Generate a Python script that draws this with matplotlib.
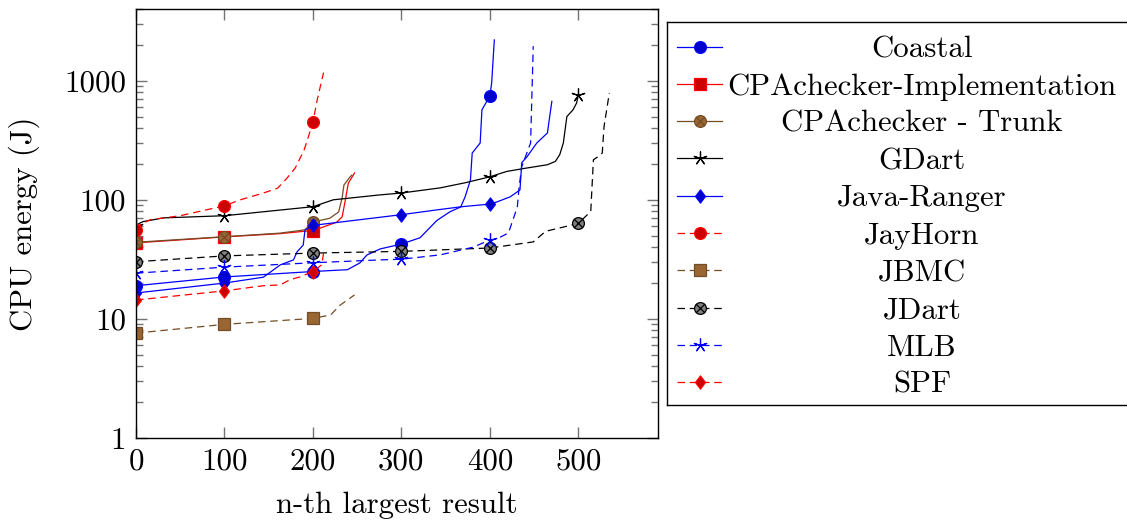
import numpy as np
import matplotlib
matplotlib.use("Agg")
import matplotlib.pyplot as plt
from matplotlib.path import Path
from matplotlib.ticker import LogLocator, NullFormatter

plt.rcParams['font.family'] = 'cmr10'
plt.rcParams['font.size'] = 22.2
plt.rcParams['axes.unicode_minus'] = False

# quantile curves (n-th result, CPU energy in J)
names = ["Coastal", "CPAchecker-Implementation", "CPAchecker - Trunk", "GDart",
         "Java-Ranger", "JayHorn", "JBMC", "JDart", "MLB", "SPF"]

coastal_x = [0, 100, 200, 239, 253, 261, 276, 300, 321, 340, 355, 367, 372, 378, 380, 389, 391, 400, 402, 405]
coastal_y = [19, 22.5, 25, 25.9, 29.5, 34.4, 38.7, 42.5, 48, 67, 79.5, 87, 106, 147, 247, 300, 570, 745, 960, 2200]

cpaimpl_x = [0, 100, 163, 191, 200, 227, 233, 236, 240, 247]
cpaimpl_y = [43.5, 48.8, 52, 54.5, 55, 65, 72, 94, 138, 168]

cpatrunk_x = [0, 100, 163, 191, 200, 219, 229, 233, 235, 242, 244]
cpatrunk_y = [44, 49, 52.5, 56, 65, 70, 79, 104, 133, 156, 161]

gdart_x = [0, 3, 8, 31, 100, 200, 223, 276, 300, 344, 372, 400, 419, 438, 465, 474, 479, 483, 487, 494, 498, 500]
gdart_y = [60, 63, 65.6, 70.5, 73.5, 87.5, 100, 110, 114, 126, 139, 156, 173, 183, 197, 210, 240, 300, 500, 570, 650, 760]

ranger_x = [0, 100, 144, 163, 178, 182, 189, 191, 200, 300, 344, 368, 400, 408, 423, 434, 436, 442, 453, 465, 470]
ranger_y = [16.5, 20, 22.4, 28.4, 31.3, 36.5, 41.7, 55.8, 61, 75, 83, 87.5, 92, 96, 106, 121, 205, 230, 300, 364, 670]

jayhorn_x = [0, 5, 16, 50, 80, 100, 118, 144, 160, 170, 180, 190, 197, 200, 205, 212]
jayhorn_y = [56, 62, 68, 73.5, 82.5, 89, 100, 114, 125, 150, 185, 262, 380, 450, 700, 1170]

jbmc_x = [0, 100, 200, 220, 231, 247]
jbmc_y = [7.6, 9.0, 10.1, 10.8, 13.1, 15.9]

jdart_x = [0, 100, 200, 300, 400, 449, 463, 489, 500, 506, 514, 517, 523, 527, 529, 535]
jdart_y = [30.2, 33.8, 35.7, 36.9, 39.4, 44.3, 54.4, 60.5, 63.5, 70, 80, 217, 232, 247, 412, 790]

mlb_x = [0, 100, 200, 276, 300, 344, 381, 400, 408, 421, 431, 433, 436, 446, 449]
mlb_y = [24.2, 27.2, 29.6, 31.3, 31.7, 34.5, 40, 46, 47, 52.7, 87, 128, 190, 300, 1950]

spf_x = [0, 100, 144, 163, 174, 186, 200, 210, 212]
spf_y = [14.4, 17.2, 19, 19.3, 21.3, 22.6, 25, 28.5, 35.8]

series_x = [coastal_x, cpaimpl_x, cpatrunk_x, gdart_x, ranger_x, jayhorn_x, jbmc_x, jdart_x, mlb_x, spf_x]
series_y = [coastal_y, cpaimpl_y, cpatrunk_y, gdart_y, ranger_y, jayhorn_y, jbmc_y, jdart_y, mlb_y, spf_y]

# pgfplots default cycle list
BLUE, RED, BLACK = (0, 0, 1), (1, 0, 0), (0, 0, 0)
BROWN_LINE = (0.45, 0.3, 0.15)
BLUE_FILL, RED_FILL, BROWN_FILL = (0, 0, 0.8), (0.8, 0, 0), (0.6, 0.4, 0.2)

c = 0.7071
otimes = Path.make_compound_path(
    Path.unit_circle(),
    Path([[-c, -c], [c, c]], [Path.MOVETO, Path.LINETO]),
    Path([[-c, c], [c, -c]], [Path.MOVETO, Path.LINETO]))
diamond = Path([[0, 1], [0.75, 0], [0, -1], [-0.75, 0], [0, 1]],
               [Path.MOVETO, Path.LINETO, Path.LINETO, Path.LINETO, Path.CLOSEPOLY])
star = (5, 2, 0)
dash = (0, (6, 3.8))

styles = [
    dict(color=BLUE, marker='o', mfc=BLUE_FILL, mec=BLUE, ms=8.5, ls='-'),
    dict(color=RED, marker='s', mfc=RED_FILL, mec=RED, ms=8, ls='-'),
    dict(color=BROWN_LINE, marker=otimes, mfc=BROWN_FILL, mec=BROWN_LINE, ms=8.5, ls='-'),
    dict(color=BLACK, marker=star, mfc=BLACK, mec=BLACK, ms=10, ls='-'),
    dict(color=BLUE, marker=diamond, mfc=BLUE_FILL, mec=BLUE, ms=9.5, ls='-'),
    dict(color=RED, marker='o', mfc=RED_FILL, mec=RED, ms=8.5, ls=dash),
    dict(color=BROWN_LINE, marker='s', mfc=BROWN_FILL, mec=BROWN_LINE, ms=8, ls=dash),
    dict(color=BLACK, marker=otimes, mfc='0.5', mec=BLACK, ms=8.5, ls=dash),
    dict(color=BLUE, marker=star, mfc=BLUE, mec=BLUE, ms=10, ls=dash),
    dict(color=RED, marker=diamond, mfc=RED_FILL, mec=RED, ms=9.5, ls=dash),
]

W, H = 1127, 524
fig = plt.figure(figsize=(W / 100, H / 100), dpi=100)
ax = fig.add_axes([136 / W, 1 - 438 / H, (658 - 136) / W, (438 - 9) / H])

for xs, ys, st in zip(series_x, series_y, styles):
    every = [i for i, v in enumerate(xs) if v % 100 == 0]
    ax.plot(xs, ys, lw=0.9, markevery=every, mew=0.9, **st)

ax.set_yscale('log')
ax.set_xlim(0, 590)
ax.set_ylim(1, 4000)
ax.set_xticks([0, 100, 200, 300, 400, 500], labels=["0", "100", "200", "300", "400", "500"])
ax.set_yticks([1, 10, 100, 1000], labels=["1", "10", "100", "1000"])
ax.yaxis.set_minor_locator(LogLocator(base=10, subs=np.arange(2, 10)))
ax.yaxis.set_minor_formatter(NullFormatter())
ax.tick_params(which='both', direction='in', top=True, right=True, color='0.45', width=1.0)
ax.tick_params(which='major', length=8, pad=7)
ax.tick_params(which='minor', length=5)
for s in ax.spines.values():
    s.set_linewidth(1.0)
ax.set_xlabel("n-th largest result", labelpad=12)
ax.set_ylabel("CPU energy (J)")
ax.yaxis.set_label_coords((40 - 136) / 522, 0.5)

# legend box drawn in pixel coordinates, right edge cut by the figure
lg = fig.add_axes([667 / W, 1 - 405 / H, (1140 - 667) / W, (405 - 22) / H])
lg.set_xlim(667, 1140)
lg.set_ylim(405, 22)
lg.set_xticks([])
lg.set_yticks([])
for s in lg.spines.values():
    s.set_linewidth(1.0)
for i, (name, st) in enumerate(zip(names, styles)):
    yy = 46.5 + 37.3 * i
    lg.plot([677, 699.5, 722], [yy] * 3, lw=0.9, markevery=[1], mew=0.9, **st)
    lg.text(922, yy, name, ha='center', va='center_baseline')

fig.savefig("out.png", dpi=100)
